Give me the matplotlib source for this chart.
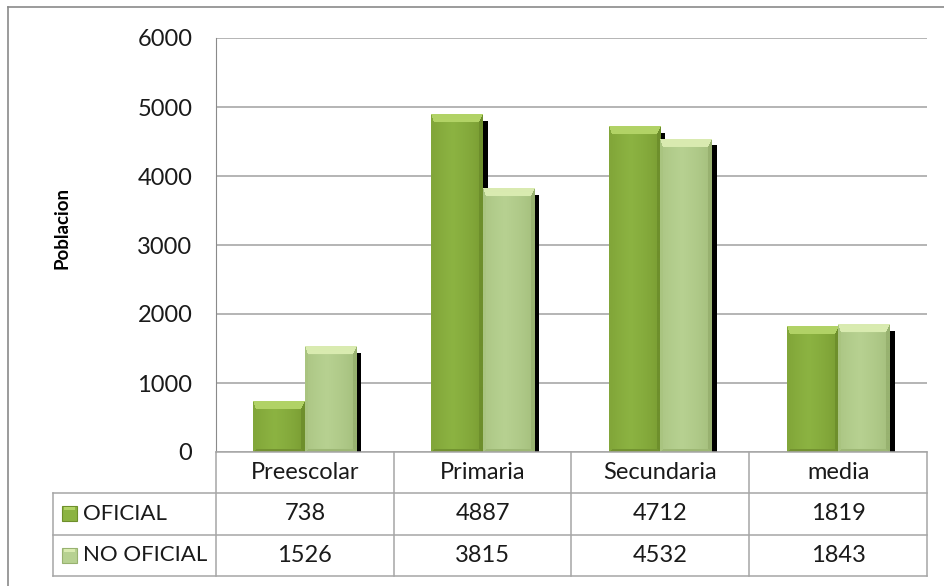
import numpy as np
import matplotlib.pyplot as plt
from matplotlib import patheffects as pe
from matplotlib.patches import Rectangle
from matplotlib.lines import Line2D

categorias = ['Preescolar', 'Primaria', 'Secundaria', 'media']
series = ['OFICIAL', 'NO OFICIAL']
oficial = [738, 4887, 4712, 1819]
no_oficial = [1526, 3815, 4532, 1843]
yticks = [0, 1000, 2000, 3000, 4000, 5000, 6000]

# tonos de cada serie: cuerpo, bisel superior, bisel izq, bisel der, bisel inf
tonos = {
    'OFICIAL': dict(base='#8cb342', borde='#76982f', top='#b2d366',
                    left='#82a63a', right='#6e8f2c', bottom='#739330'),
    'NO OFICIAL': dict(base='#b7d191', borde='#a0bb78', top='#d9ebb0',
                       left='#a9c480', right='#98b270', bottom='#9db775'),
}

plt.rcParams['font.family'] = ['Lato', 'DejaVu Sans']
texto = '#1a1a1a'

W, H = 945, 586
fig = plt.figure(figsize=(W / 100, H / 100), dpi=100)
ax = fig.add_axes([216 / W, 134 / H, 711 / W, 414 / H])
ax.set_xlim(0, 4)
ax.set_ylim(0, 6000)

ax.set_yticks(yticks)
ax.set_yticklabels([str(t) for t in yticks], fontsize=17, color=texto)
ax.tick_params(axis='y', length=0, pad=17)
ax.set_xticks([])
ax.yaxis.grid(True, color='#a0a0a0', lw=1.1)
ax.set_axisbelow(True)
for s in ['top', 'right', 'bottom']:
    ax.spines[s].set_visible(False)
ax.spines['left'].set_color('#8a8a8a')


def hex2rgb(c):
    c = c.lstrip('#')
    return np.array([int(c[i:i + 2], 16) / 255 for i in (0, 2, 4)])


def relleno(rect, t, z):
    # imagen con degradado y bisel, del tamaño en pixeles de la barra
    x0, y0 = rect.get_x(), rect.get_y()
    w, h = rect.get_width(), rect.get_height()
    (px0, py0), (px1, py1) = ax.transData.transform([(x0, y0), (x0 + w, y0 + h)])
    nx, ny = max(int(round(px1 - px0)), 2), max(int(round(py1 - py0)), 2)
    jj, ii = np.meshgrid(np.arange(nx) + 0.5, np.arange(ny) + 0.5)
    u = jj / nx
    perfil = np.clip(1 - np.abs(u - 0.42) / 0.58, 0, 1) ** 0.6
    img = (hex2rgb(t['borde'])[None, None, :] * (1 - perfil[..., None])
           + hex2rgb(t['base'])[None, None, :] * perfil[..., None])
    # grosor del bisel por lado (px)
    lados = [(ny - ii, 3, 'bottom'), (jj, 3, 'left'), (nx - jj, 4, 'right'), (ii, 8, 'top')]
    rel = np.minimum.reduce([d / g for d, g, _ in lados])
    for d, g, key in lados:
        m = (d / g == rel) & (rel < 1)
        img[m] = hex2rgb(t[key])
    ax.imshow(img, extent=(x0, x0 + w, y0, y0 + h), origin='upper',
              aspect='auto', interpolation='bilinear', zorder=z)


x = np.arange(len(categorias)) + 0.5
ancho = 0.29
sombra = [pe.SimplePatchShadow(offset=(3.6, -4.3), shadow_rgbFace='black', alpha=1.0),
          pe.Normal()]
for k, (nombre, vals) in enumerate(zip(series, [oficial, no_oficial])):
    z = 2 + k * 0.2
    barras = ax.bar(x + (k - 0.5) * ancho, vals, ancho, color=tonos[nombre]['base'],
                    zorder=z, path_effects=sombra)
    for r in barras:
        relleno(r, tonos[nombre], z + 0.1)

ax.set_xlim(0, 4)
ax.set_ylim(0, 6000)

# tabla de datos bajo el eje
gris = '#a6a6a6'
fila = 0.0998
izq = -0.2293
kw = dict(color=gris, lw=1.1, transform=ax.transAxes, clip_on=False, zorder=5)
ax.plot([0, 1], [0, 0], **kw)
for i in range(1, 4):
    ax.plot([izq, 1], [-i * fila, -i * fila], **kw)
for xc in np.linspace(0, 1, 5):
    ax.plot([xc, xc], [0, -3 * fila], **kw)
ax.plot([izq, izq], [-fila, -3 * fila], **kw)

for i, cat in enumerate(categorias):
    ax.text((i + 0.5) / 4, -0.5 * fila, cat, transform=ax.transAxes,
            ha='center', va='center', fontsize=17, color=texto)
for k, (nombre, vals) in enumerate(zip(series, [oficial, no_oficial])):
    yc = -(k + 1.5) * fila
    for i, v in enumerate(vals):
        ax.text((i + 0.5) / 4, yc, str(v), transform=ax.transAxes,
                ha='center', va='center', fontsize=17, color=texto)
    # clave de leyenda
    ks = 15 / 711
    kh = 15 / 414
    ax.add_patch(Rectangle((izq + 9 / 711, yc - kh / 2), ks, kh,
                           transform=ax.transAxes, clip_on=False, zorder=6,
                           facecolor=tonos[nombre]['base'],
                           edgecolor=tonos[nombre]['right'], lw=0.8))
    ax.add_patch(Rectangle((izq + 11 / 711, yc + kh / 2 - 4 / 414), ks - 4 / 711, 3 / 414,
                           transform=ax.transAxes, clip_on=False, zorder=7,
                           facecolor=tonos[nombre]['top'], lw=0))
    ax.text(izq + 30 / 711, yc, nombre, transform=ax.transAxes,
            ha='left', va='center', fontsize=16, color=texto)

fig.text(62 / W, 1 - 228 / H, 'Poblacion', rotation=90, ha='center', va='center',
         fontsize=13.5, fontweight='bold', color='black')

# marco exterior
fig.add_artist(Line2D([8 / W, 8 / W], [0, 1 - 7 / H], color='#8a8a8a', lw=1.2))
fig.add_artist(Line2D([8 / W, 1], [1 - 7 / H, 1 - 7 / H], color='#8a8a8a', lw=1.2))

fig.savefig('out.png', dpi=100)
